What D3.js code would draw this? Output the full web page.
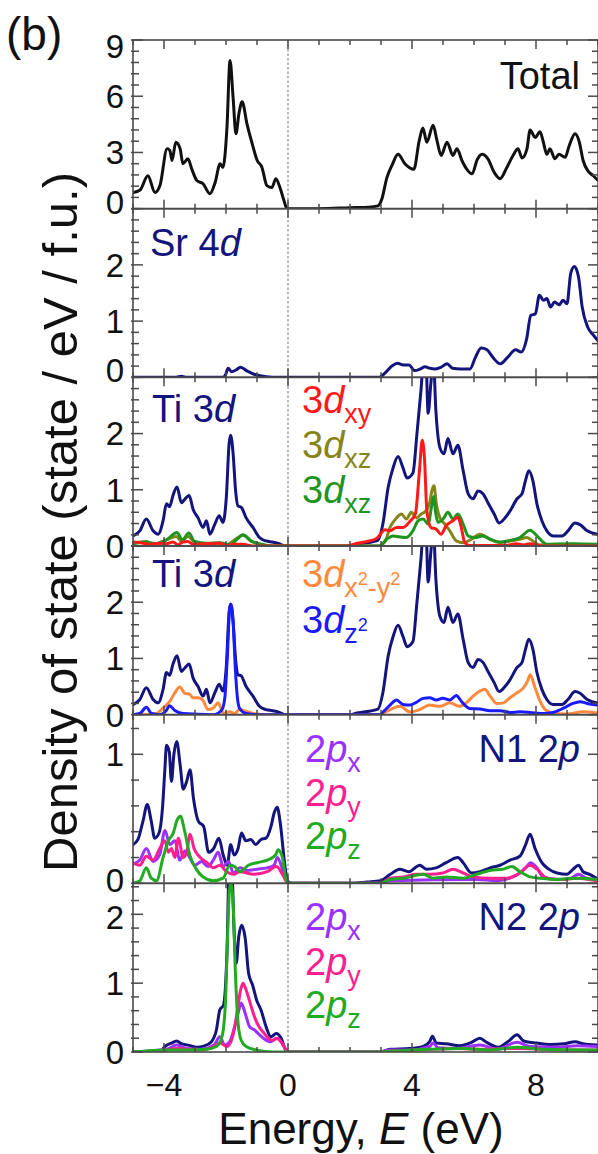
<!DOCTYPE html>
<html>
<head>
<meta charset="utf-8">
<script src="https://cdn.jsdelivr.net/npm/d3@7"></script>
<style>
  html, body { margin: 0; padding: 0; background: #fff; }
  svg { display: block; font-family: "Liberation Sans", Arial, Helvetica, sans-serif; }
</style>
</head>
<body>
<svg id="chart" width="598" height="1154"></svg>
<script>
// Energy axis
const energyDomain = [-5, 10];
const energyMajorTicks = [-4, 0, 4, 8];
const energyMinorTicks = d3.range(-5, 10.01, 1);

// Density of states, [energy (eV), DOS (state/eV/f.u.)]
const totalDOS = [[-5,0.86],[-4.77,1.0],[-4.52,1.75],[-4.29,0.86],[-4.13,1.23],[-3.9,3.2],[-3.81,3.1],[-3.74,2.57],[-3.62,3.54],[-3.48,3.2],[-3.39,2.4],[-3.23,2.66],[-3.1,2.1],[-2.94,1.5],[-2.74,1.33],[-2.52,0.8],[-2.35,1.4],[-2.19,2.4],[-2.1,2.2],[-1.97,4.3],[-1.87,7.9],[-1.77,5.9],[-1.68,4.0],[-1.58,5.1],[-1.48,5.7],[-1.32,4.5],[-1.16,3.5],[-1.0,2.6],[-0.84,2.2],[-0.68,1.23],[-0.52,1.13],[-0.39,1.6],[-0.26,1.13],[-0.13,0.43],[-0.03,0],[1.0,0],[2.0,0.05],[2.6,0.08],[2.9,0.15],[3.03,0.53],[3.19,1.66],[3.35,2.3],[3.55,2.9],[3.77,2.4],[4.06,2.1],[4.23,3.6],[4.35,4.3],[4.48,3.55],[4.68,4.45],[4.81,3.6],[4.94,2.84],[5.13,3.55],[5.32,2.84],[5.45,3.2],[5.61,2.57],[5.77,2.1],[5.94,1.86],[6.1,2.6],[6.26,2.9],[6.45,2.66],[6.65,1.94],[6.84,1.6],[7.06,2.2],[7.26,2.84],[7.42,3.2],[7.55,2.7],[7.71,3.2],[7.81,4.2],[7.97,3.8],[8.13,4.1],[8.23,3.6],[8.35,2.9],[8.45,3.2],[8.61,2.66],[8.74,2.9],[8.94,2.74],[9.06,3.3],[9.26,4.0],[9.39,3.6],[9.52,2.57],[9.68,2.0],[9.84,1.77],[10,1.5]];

const sr4d = [[-5,0],[-3.6,0],[-3.45,0.02],[-3.3,0],[-2.1,0],[-2.02,0.04],[-1.93,0.16],[-1.82,0.1],[-1.68,0.13],[-1.53,0.18],[-1.31,0.11],[-1.07,0.05],[-0.7,0.01],[-0.3,0],[2.95,0],[3.1,0.06],[3.35,0.2],[3.53,0.25],[3.72,0.22],[3.9,0.22],[4.09,0.12],[4.27,0.15],[4.42,0.19],[4.58,0.16],[4.76,0.15],[4.94,0.18],[5.13,0.24],[5.31,0.16],[5.56,0.15],[5.87,0.15],[6.05,0.36],[6.23,0.52],[6.42,0.49],[6.6,0.36],[6.85,0.24],[7.09,0.36],[7.34,0.49],[7.52,0.45],[7.7,0.69],[7.83,1.1],[7.98,1.13],[8.11,1.46],[8.24,1.37],[8.35,1.4],[8.47,1.25],[8.6,1.34],[8.75,1.29],[8.87,1.37],[9.0,1.31],[9.12,1.85],[9.24,1.97],[9.37,1.79],[9.49,1.25],[9.67,0.89],[9.85,0.75],[10,0.65]];

const ti3d = [[-5,0.18],[-4.78,0.27],[-4.57,0.48],[-4.35,0.27],[-4.19,0.21],[-4.03,0.45],[-3.92,0.75],[-3.82,0.7],[-3.71,0.9],[-3.58,1.05],[-3.44,0.77],[-3.33,0.83],[-3.19,0.9],[-3.06,0.65],[-2.9,0.5],[-2.74,0.33],[-2.63,0.45],[-2.52,0.21],[-2.36,0.39],[-2.22,0.54],[-2.1,0.42],[-1.99,0.86],[-1.9,1.82],[-1.85,1.97],[-1.77,1.64],[-1.69,0.98],[-1.61,0.71],[-1.51,0.69],[-1.35,0.5],[-1.13,0.33],[-0.92,0.15],[-0.71,0.09],[-0.5,0.07],[-0.28,0.04],[-0.1,0],[2.0,0],[2.23,0.03],[2.9,0.1],[3.06,0.39],[3.23,1.04],[3.39,1.39],[3.55,1.59],[3.71,1.39],[3.84,1.21],[4.03,1.3],[4.16,2.0],[4.29,2.77],[4.37,3.3],[4.45,3.3],[4.52,2.36],[4.61,2.9],[4.69,3.3],[4.77,2.41],[4.9,1.75],[5.03,1.64],[5.16,1.91],[5.32,1.64],[5.48,1.79],[5.65,1.34],[5.81,0.93],[5.97,0.84],[6.13,0.98],[6.29,0.93],[6.45,0.77],[6.65,0.57],[6.81,0.41],[7.0,0.5],[7.16,0.62],[7.39,0.84],[7.55,0.93],[7.65,1.14],[7.77,1.34],[7.9,1.16],[8.03,0.75],[8.19,0.45],[8.35,0.27],[8.55,0.18],[8.84,0.18],[9.03,0.27],[9.26,0.41],[9.42,0.38],[9.65,0.27],[9.97,0.21]];

const ti3dxy = [[-5,0.07],[-4.67,0.05],[-4.46,0.03],[-4.14,0.05],[-3.92,0.04],[-3.71,0.07],[-3.55,0.02],[-3.39,0.07],[-3.23,0.08],[-3.06,0.03],[-2.63,0.04],[-2.2,0.05],[-1.99,0.01],[-1.77,0.03],[-1.45,0.03],[-1.13,0],[1.9,0],[2.23,0.05],[2.55,0.08],[2.87,0.14],[3.13,0.29],[3.29,0.27],[3.5,0.33],[3.71,0.33],[3.95,0.45],[4.11,0.57],[4.24,1.34],[4.33,1.88],[4.4,1.58],[4.48,0.62],[4.61,0.33],[4.78,0.3],[4.94,0.21],[5.1,0.36],[5.32,0.45],[5.48,0.51],[5.59,0.33],[5.7,0.06],[5.86,0.01],[7.0,0.01],[7.36,0.04],[7.6,0.02],[7.8,0.04],[8.23,0],[10,0]];

const ti3dxz = [[-5,0.05],[-4.57,0.08],[-4.35,0.03],[-3.92,0.11],[-3.6,0.17],[-3.44,0.08],[-3.23,0.17],[-3.01,0.07],[-2.63,0.04],[-2.2,0.05],[-1.99,0.02],[-1.72,0.11],[-1.45,0.19],[-1.18,0.08],[-0.92,0.03],[-0.7,0.01],[-0.3,0],[2.9,0],[3.13,0.08],[3.29,0.33],[3.5,0.5],[3.66,0.57],[3.82,0.48],[3.98,0.6],[4.14,0.5],[4.3,0.57],[4.44,0.62],[4.57,0.77],[4.65,1.0],[4.71,1.07],[4.78,0.77],[4.9,0.5],[5.06,0.39],[5.22,0.27],[5.43,0.09],[5.65,0.06],[5.92,0.12],[6.19,0.21],[6.52,0.12],[6.84,0.06],[7.16,0.09],[7.48,0.12],[7.7,0.15],[7.9,0.09],[8.11,0.02],[8.65,0.03],[9.19,0.03],[10,0.02]];

const ti3dxzB = [[-5,0.04],[-4.57,0.07],[-4.24,0.04],[-3.92,0.11],[-3.58,0.24],[-3.41,0.11],[-3.2,0.23],[-3.01,0.08],[-2.63,0.05],[-2.2,0.06],[-1.88,0.02],[-1.66,0.11],[-1.45,0.2],[-1.18,0.09],[-0.86,0.03],[-0.5,0],[2.96,0],[3.18,0.12],[3.39,0.18],[3.61,0.16],[3.82,0.15],[4.03,0.27],[4.2,0.45],[4.36,0.48],[4.52,0.39],[4.63,0.7],[4.7,0.88],[4.76,0.6],[4.84,0.42],[5.0,0.48],[5.16,0.6],[5.32,0.48],[5.48,0.57],[5.65,0.39],[5.81,0.18],[6.03,0.15],[6.29,0.18],[6.52,0.12],[6.84,0.07],[7.16,0.1],[7.48,0.15],[7.81,0.28],[8.03,0.18],[8.35,0.03],[9.19,0.04],[10,0.03]];

const ti3dx2y2 = [[-5,0],[-4.67,0],[-4.24,0.02],[-4.03,0.12],[-3.82,0.23],[-3.66,0.38],[-3.49,0.49],[-3.33,0.38],[-3.17,0.36],[-3.06,0.3],[-2.9,0.3],[-2.74,0.25],[-2.58,0.09],[-2.41,0.12],[-2.25,0.21],[-2.09,0.03],[-1.88,0.05],[-1.72,0.02],[-1.56,0.09],[-1.35,0.06],[-1.02,0.01],[-0.7,0],[2.96,0],[3.29,0.09],[3.61,0.15],[3.93,0.05],[4.25,0.09],[4.57,0.17],[4.9,0.15],[5.22,0.21],[5.54,0.15],[5.75,0.21],[5.97,0.33],[6.19,0.42],[6.35,0.45],[6.52,0.33],[6.74,0.2],[6.95,0.21],[7.16,0.3],[7.39,0.39],[7.6,0.48],[7.73,0.6],[7.81,0.71],[7.97,0.48],[8.13,0.24],[8.3,0.09],[8.55,0.03],[8.98,0.01],[9.52,0.05],[10,0.03]];

const ti3dz2 = [[-5,0],[-4.78,0.02],[-4.57,0.13],[-4.4,0.02],[-4.14,0],[-3.92,0.08],[-3.82,0.16],[-3.66,0.08],[-3.39,0.02],[-2.41,0],[-2.14,0.08],[-2.04,0.29],[-1.96,1.0],[-1.88,1.9],[-1.84,1.96],[-1.77,1.66],[-1.7,0.83],[-1.63,0.29],[-1.56,0.11],[-1.35,0.02],[-1.02,0],[2.96,0],[3.07,0.05],[3.29,0.17],[3.5,0.26],[3.71,0.18],[3.93,0.17],[4.14,0.22],[4.36,0.29],[4.57,0.3],[4.78,0.26],[5.0,0.29],[5.22,0.26],[5.43,0.34],[5.59,0.24],[5.86,0.11],[6.19,0.1],[6.52,0.07],[6.84,0.07],[7.16,0.04],[7.48,0.05],[7.81,0.04],[8.23,0.02],[8.55,0.04],[8.87,0.11],[9.19,0.2],[9.42,0.23],[9.65,0.2],[9.96,0.17]];

const n1Total = [[-5,0.3],[-4.84,0.34],[-4.68,0.48],[-4.54,0.61],[-4.41,0.48],[-4.3,0.35],[-4.16,0.39],[-4.05,0.58],[-3.97,0.89],[-3.92,1.07],[-3.83,1.02],[-3.76,0.79],[-3.68,1.0],[-3.59,1.1],[-3.48,0.92],[-3.38,0.73],[-3.27,0.79],[-3.16,0.88],[-3.05,0.66],[-2.89,0.48],[-2.72,0.44],[-2.56,0.24],[-2.4,0.27],[-2.23,0.35],[-2.09,0.22],[-1.96,0.14],[-1.85,0.3],[-1.74,0.22],[-1.61,0.27],[-1.5,0.39],[-1.36,0.33],[-1.2,0.34],[-1.04,0.3],[-0.87,0.34],[-0.71,0.35],[-0.55,0.44],[-0.44,0.55],[-0.35,0.59],[-0.24,0.45],[-0.13,0.2],[-0.02,0.02],[0.1,0],[2.0,0],[2.55,0.01],[2.98,0.02],[3.3,0.07],[3.6,0.11],[3.9,0.09],[4.25,0.14],[4.46,0.11],[4.78,0.12],[5.1,0.16],[5.48,0.2],[5.65,0.16],[5.92,0.08],[6.19,0.09],[6.52,0.12],[6.84,0.14],[7.16,0.18],[7.48,0.21],[7.65,0.29],[7.81,0.38],[7.97,0.27],[8.19,0.16],[8.41,0.11],[8.68,0.08],[9.0,0.07],[9.2,0.11],[9.37,0.14],[9.52,0.09],[9.73,0.07],[9.95,0.04]];

const n1px = [[-5,0.15],[-4.78,0.18],[-4.57,0.27],[-4.35,0.17],[-4.14,0.22],[-3.97,0.41],[-3.81,0.3],[-3.65,0.33],[-3.49,0.18],[-3.33,0.25],[-3.17,0.2],[-3.01,0.14],[-2.79,0.17],[-2.58,0.13],[-2.41,0.18],[-2.25,0.24],[-2.09,0.13],[-1.92,0.17],[-1.76,0.08],[-1.55,0.12],[-1.33,0.1],[-1.0,0.11],[-0.67,0.12],[-0.45,0.14],[-0.34,0.2],[-0.18,0.11],[0,0],[3.0,0],[3.3,0.02],[6.08,0.03],[6.73,0.02],[7.16,0.04],[7.48,0.08],[7.7,0.13],[7.82,0.16],[8.03,0.12],[8.23,0.05],[8.68,0.03],[9.12,0.04],[9.37,0.07],[9.63,0.04],[9.96,0.03]];

const n1py = [[-5,0.16],[-4.78,0.14],[-4.57,0.21],[-4.35,0.18],[-4.14,0.27],[-3.97,0.33],[-3.86,0.24],[-3.76,0.27],[-3.65,0.2],[-3.54,0.35],[-3.38,0.2],[-3.27,0.24],[-3.16,0.38],[-3.03,0.27],[-2.83,0.2],[-2.61,0.16],[-2.41,0.12],[-2.2,0.14],[-1.98,0.09],[-1.76,0.07],[-1.55,0.09],[-1.1,0.07],[-0.67,0.09],[-0.37,0.13],[-0.18,0.07],[0,0],[2.98,0],[3.3,0.04],[3.73,0.05],[4.14,0.07],[4.57,0.07],[5.0,0.08],[5.32,0.11],[5.65,0.08],[5.97,0.05],[6.52,0.04],[7.06,0.04],[7.48,0.08],[7.81,0.14],[8.03,0.11],[8.35,0.04],[8.9,0.03],[9.33,0.04],[9.96,0.02]];

const n1pz = [[-5,0],[-4.78,0.02],[-4.57,0.12],[-4.41,0.04],[-4.24,0.02],[-4.03,0.2],[-3.86,0.33],[-3.7,0.39],[-3.58,0.49],[-3.47,0.52],[-3.33,0.4],[-3.17,0.22],[-2.96,0.11],[-2.74,0.05],[-2.41,0.02],[-2.09,0.04],[-1.88,0.14],[-1.72,0.13],[-1.55,0.09],[-1.28,0.14],[-1.0,0.16],[-0.67,0.18],[-0.4,0.22],[-0.32,0.26],[-0.18,0.2],[-0.07,0.04],[0.05,0],[2.98,0],[3.3,0.03],[3.73,0.04],[4.36,0.07],[4.68,0.04],[5.1,0.05],[5.65,0.04],[6.08,0.07],[6.52,0.1],[6.95,0.11],[7.22,0.13],[7.48,0.09],[7.81,0.05],[8.13,0.04],[8.68,0.03],[9.33,0.04],[9.96,0.03]];

const n2Total = [[-5,0],[-4.14,0],[-3.97,0.08],[-3.76,0.13],[-3.59,0.16],[-3.44,0.12],[-3.23,0.1],[-2.96,0.07],[-2.69,0.09],[-2.47,0.15],[-2.31,0.32],[-2.2,0.61],[-2.08,0.68],[-1.97,1.43],[-1.9,2.6],[-1.81,2.6],[-1.74,1.77],[-1.67,1.29],[-1.59,1.67],[-1.49,1.84],[-1.38,1.65],[-1.27,1.14],[-1.14,0.97],[-1.01,0.75],[-0.87,0.61],[-0.71,0.37],[-0.55,0.22],[-0.38,0.27],[-0.22,0.2],[-0.08,0.03],[0,0],[2.96,0],[3.29,0.04],[3.93,0.05],[4.36,0.08],[4.57,0.15],[4.66,0.23],[4.78,0.13],[5.1,0.12],[5.54,0.09],[5.92,0.14],[6.19,0.2],[6.41,0.14],[6.79,0.07],[7.12,0.16],[7.39,0.25],[7.6,0.16],[8.03,0.13],[8.46,0.11],[8.9,0.12],[9.26,0.15],[9.52,0.12],[9.96,0.1]];

const n2px = [[-5,0],[-3.92,0.04],[-3.59,0.1],[-3.28,0.05],[-2.82,0.04],[-2.39,0.1],[-2.2,0.22],[-2.04,0.1],[-1.88,0.15],[-1.72,0.37],[-1.61,0.56],[-1.51,0.71],[-1.38,0.56],[-1.24,0.37],[-1.08,0.32],[-0.92,0.25],[-0.7,0.17],[-0.55,0.15],[-0.38,0.2],[-0.22,0.15],[-0.06,0.03],[0,0],[2.96,0],[3.29,0.03],[3.93,0.03],[4.57,0.08],[4.68,0.13],[4.84,0.06],[5.43,0.05],[6.19,0.1],[6.73,0.04],[7.39,0.14],[7.81,0.08],[8.68,0.07],[9.33,0.09],[9.96,0.08]];

const n2py = [[-5,0],[-3.92,0.03],[-3.59,0.05],[-2.82,0.03],[-2.39,0.08],[-2.2,0.13],[-1.96,0.08],[-1.76,0.27],[-1.63,0.61],[-1.53,0.9],[-1.45,1.0],[-1.35,0.9],[-1.22,0.71],[-1.08,0.51],[-0.94,0.37],[-0.8,0.29],[-0.64,0.2],[-0.49,0.17],[-0.34,0.2],[-0.2,0.13],[-0.06,0.03],[0,0],[2.96,0],[3.29,0.01],[4.36,0.03],[5.43,0.05],[6.3,0.04],[7.06,0.05],[7.6,0.05],[8.68,0.03],[9.96,0.03]];

const n2pz = [[-5,0],[-3.92,0.03],[-3.28,0.03],[-2.63,0.04],[-2.31,0.08],[-2.13,0.22],[-2.02,0.7],[-1.95,1.67],[-1.89,2.35],[-1.85,2.45],[-1.77,2.15],[-1.7,1.19],[-1.61,0.42],[-1.51,0.17],[-1.35,0.08],[-1.03,0.03],[-0.49,0],[2.96,0],[3.29,0.01],[4.57,0.04],[5.65,0.05],[6.52,0.03],[7.39,0.07],[8.23,0.04],[9.96,0.03]];

// Colours
const C = {
  black: "#111111", navy: "#14147d", red: "#ff1a1a", olive: "#85851a",
  green: "#1f951f", orange: "#ff8a3d", blue: "#1a1aff",
  purple: "#9b30ff", pink: "#ff1f8f", green2: "#22aa22"
};

// Label pieces: [text, style] with style n=normal, i=italic, sub=subscript, sup=superscript inside subscript
const panels = [
  { ymax: 9, major: [0, 3, 6, 9], minor: 0.6, nudge: {0: -7, 9: 6},
    series: [[totalDOS, C.black]],
    labels: [{ x: 580, y: 89, anchor: "end", color: C.black, parts: [["Total","n"]] }] },
  { ymax: 3, major: [0, 1, 2], minor: 0.2, nudge: {0: -7},
    series: [[sr4d, C.navy]],
    labels: [{ x: 150, y: 256, color: C.navy, parts: [["Sr 4","n"],["d","i"]] }] },
  { ymax: 3, major: [0, 1, 2], minor: 0.2, nudge: {},
    series: [[ti3d, C.navy], [ti3dxz, C.olive], [ti3dxzB, C.green], [ti3dxy, C.red]],
    labels: [
      { x: 152, y: 422, color: C.navy, parts: [["Ti 3","n"],["d","i"]] },
      { x: 302, y: 413, color: C.red, parts: [["3","n"],["d","i"],["xy","sub"]] },
      { x: 302, y: 458, color: C.olive, parts: [["3","n"],["d","i"],["xz","sub"]] },
      { x: 302, y: 503, color: C.green, parts: [["3","n"],["d","i"],["xz","sub"]] }
    ] },
  { ymax: 3, major: [0, 1, 2], minor: 0.2, nudge: {},
    series: [[ti3d, C.navy], [ti3dx2y2, C.orange], [ti3dz2, C.blue]],
    labels: [
      { x: 152, y: 587, color: C.navy, parts: [["Ti 3","n"],["d","i"]] },
      { x: 302, y: 587, color: C.orange, parts: [["3","n"],["d","i"],["x","sub"],["2","sup"],["-y","sub"],["2","sup"]] },
      { x: 302, y: 633, color: C.blue, parts: [["3","n"],["d","i"],["z","sub"],["2","sup"]] }
    ] },
  { ymax: 1.307, major: [0, 1], minor: 0.2, nudge: {0: -3},
    series: [[n1Total, C.navy], [n1px, C.purple], [n1py, C.pink], [n1pz, C.green2]],
    labels: [
      { x: 580, y: 762, anchor: "end", color: C.navy, parts: [["N1 2","n"],["p","i"]] },
      { x: 305, y: 762, color: C.purple, parts: [["2","n"],["p","i"],["x","sub"]] },
      { x: 305, y: 806, color: C.pink, parts: [["2","n"],["p","i"],["y","sub"]] },
      { x: 305, y: 849, color: C.green2, parts: [["2","n"],["p","i"],["z","sub"]] }
    ] },
  { ymax: 2.45, major: [0, 1, 2], minor: 0.2, nudge: {2: 3},
    series: [[n2Total, C.navy], [n2px, C.purple], [n2py, C.pink], [n2pz, C.green2]],
    labels: [
      { x: 580, y: 930, anchor: "end", color: C.navy, parts: [["N2 2","n"],["p","i"]] },
      { x: 305, y: 930, color: C.purple, parts: [["2","n"],["p","i"],["x","sub"]] },
      { x: 305, y: 975, color: C.pink, parts: [["2","n"],["p","i"],["y","sub"]] },
      { x: 305, y: 1018, color: C.green2, parts: [["2","n"],["p","i"],["z","sub"]] }
    ] }
];

// Layout
const plotLeft = 133, plotRight = 598, plotTop = 40, plotBottom = 1052;
const panelH = (plotBottom - plotTop) / panels.length;
const axisColor = "#4a4a4a";

const svg = d3.select("#chart");
const x = d3.scaleLinear().domain(energyDomain).range([plotLeft, plotRight]);

// Fermi level marker across all panels
svg.append("line")
  .attr("x1", x(0)).attr("x2", x(0))
  .attr("y1", plotTop).attr("y2", plotBottom)
  .attr("stroke", "#8c8c8c").attr("stroke-width", 1.2)
  .attr("stroke-dasharray", "2.5,2");

const defs = svg.append("defs");

function drawLabel(g, L) {
  const t = g.append("text")
    .attr("x", L.x).attr("y", L.y)
    .attr("fill", L.color)
    .attr("font-size", 38)
    .attr("text-anchor", L.anchor || "start");
  let shift = 0; // current baseline offset
  L.parts.forEach(([s, kind]) => {
    const span = t.append("tspan").text(s);
    let target = 0, size = 38;
    if (kind === "i") span.attr("font-style", "italic");
    if (kind === "sub") { target = 10; size = 27; }
    if (kind === "sup") { target = -2; size = 18; }
    span.attr("font-size", size).attr("dy", target - shift);
    shift = target;
  });
}

panels.forEach((p, i) => {
  const y0 = plotTop + i * panelH, y1 = y0 + panelH;
  const y = d3.scaleLinear().domain([0, p.ymax]).range([y1, y0]);
  const g = svg.append("g");

  const clipId = "clip" + i;
  defs.append("clipPath").attr("id", clipId)
    .append("rect").attr("x", plotLeft).attr("y", y0)
    .attr("width", plotRight - plotLeft).attr("height", panelH);

  const line = d3.line()
    .x(d => x(d[0])).y(d => y(d[1]))
    .curve(d3.curveMonotoneX);

  const curves = g.append("g").attr("clip-path", `url(#${clipId})`);
  p.series.forEach(([data, color]) => {
    curves.append("path")
      .attr("d", line(data))
      .attr("fill", "none")
      .attr("stroke", color)
      .attr("stroke-width", 3)
      .attr("stroke-linejoin", "round")
      .attr("stroke-linecap", "round");
  });

  // Frame
  g.append("rect")
    .attr("x", plotLeft).attr("y", y0)
    .attr("width", plotRight - plotLeft).attr("height", panelH)
    .attr("fill", "none").attr("stroke", axisColor).attr("stroke-width", 1.6);

  // Energy ticks on top and bottom edges, pointing inward
  energyMinorTicks.forEach(e => {
    const len = energyMajorTicks.includes(e) ? 9 : 5;
    g.append("line").attr("x1", x(e)).attr("x2", x(e))
      .attr("y1", y1).attr("y2", y1 - len)
      .attr("stroke", axisColor).attr("stroke-width", 1.5);
    g.append("line").attr("x1", x(e)).attr("x2", x(e))
      .attr("y1", y0).attr("y2", y0 + len)
      .attr("stroke", axisColor).attr("stroke-width", 1.5);
  });

  // DOS ticks on left and right edges
  const minorVals = d3.range(0, p.ymax + 1e-6, p.minor);
  minorVals.forEach(v => {
    const isMajor = p.major.some(m => Math.abs(m - v) < 1e-6);
    const len = isMajor ? 10 : 6;
    g.append("line").attr("x1", plotLeft - 2).attr("x2", plotLeft + len)
      .attr("y1", y(v)).attr("y2", y(v))
      .attr("stroke", axisColor).attr("stroke-width", 1.5);
    g.append("line").attr("x1", plotRight).attr("x2", plotRight - len)
      .attr("y1", y(v)).attr("y2", y(v))
      .attr("stroke", axisColor).attr("stroke-width", 1.5);
  });

  p.major.forEach(v => {
    g.append("text")
      .attr("x", plotLeft - 9)
      .attr("y", y(v) + (p.nudge[v] || 0))
      .attr("dy", "0.36em")
      .attr("text-anchor", "end")
      .attr("font-size", 33)
      .attr("fill", "#111")
      .text(v);
  });

  p.labels.forEach(L => drawLabel(g, L));
});

// Energy tick labels under the last panel
energyMajorTicks.forEach(e => {
  svg.append("text")
    .attr("x", x(e)).attr("y", 1096)
    .attr("text-anchor", "middle")
    .attr("font-size", 32)
    .attr("fill", "#111")
    .text(e < 0 ? "\u2212" + Math.abs(e) : e);
});

// Axis titles
const xt = svg.append("text")
  .attr("x", 361).attr("y", 1144)
  .attr("text-anchor", "middle").attr("font-size", 44).attr("fill", "#111");
xt.append("tspan").text("Energy, ");
xt.append("tspan").attr("font-style", "italic").text("E");
xt.append("tspan").text(" (eV)");

svg.append("text")
  .attr("transform", "translate(77,522) rotate(-90)")
  .attr("text-anchor", "middle").attr("font-size", 49).attr("fill", "#111")
  .text("Density of state (state / eV / f.u.)");

svg.append("text")
  .attr("x", 6).attr("y", 50)
  .attr("font-size", 46).attr("fill", "#111")
  .text("(b)");
</script>
</body>
</html>
